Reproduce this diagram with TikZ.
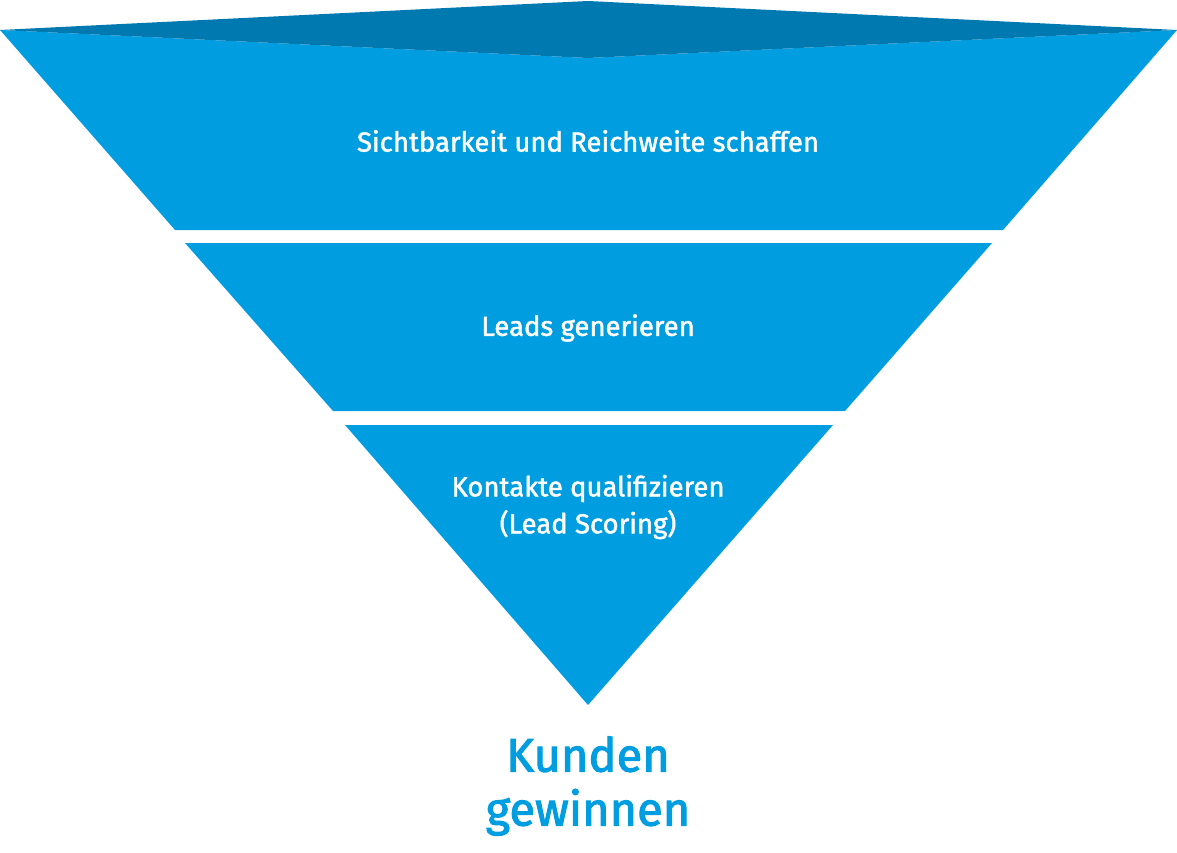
\documentclass[tikz,border=0pt]{standalone}
\usepackage{fontspec}
\setmainfont{Fira Sans}
\newfontfamily\semib{Fira Sans}[FakeBold=1.6]
\newfontfamily\semibb{Fira Sans}[FakeBold=2.2]
\begin{document}
\begin{tikzpicture}[x=1pt,y=-1pt,
  band/.style={fill=fblue,draw=none},
  lbl/.style={text=white,font=\semib\fontsize{27.5}{37}\selectfont,align=center}]
\definecolor{fblue}{RGB}{0,158,224}
\definecolor{fdark}{RGB}{0,121,176}
\useasboundingbox (0,0) rectangle (1177,853);
\fill[fblue] (0,30) -- (588,58) -- (1177,30) -- (1003,230) -- (175,230) -- cycle;
\fill[fdark] (0,30) -- (588,1) -- (1177,30) -- (588,58) -- cycle;
\fill[band] (185,243) -- (992,243) -- (845,411) -- (333,411) -- cycle;
\fill[band] (345,425) -- (833,425) -- (588,705) -- cycle;
\node[lbl] (a) at (588,141) {Sichtbarkeit und Reichweite schaffen};
\node[lbl] (b) at (588,328) {Leads generieren};
\node[lbl] (c) at (588,507) {Kontakte qualifizieren\\(Lead Scoring)};
\node[text=fblue,font=\semibb\fontsize{47}{54}\selectfont,align=center] (d) at (588,786) {Kunden\\gewinnen};
\end{tikzpicture}
\end{document}
